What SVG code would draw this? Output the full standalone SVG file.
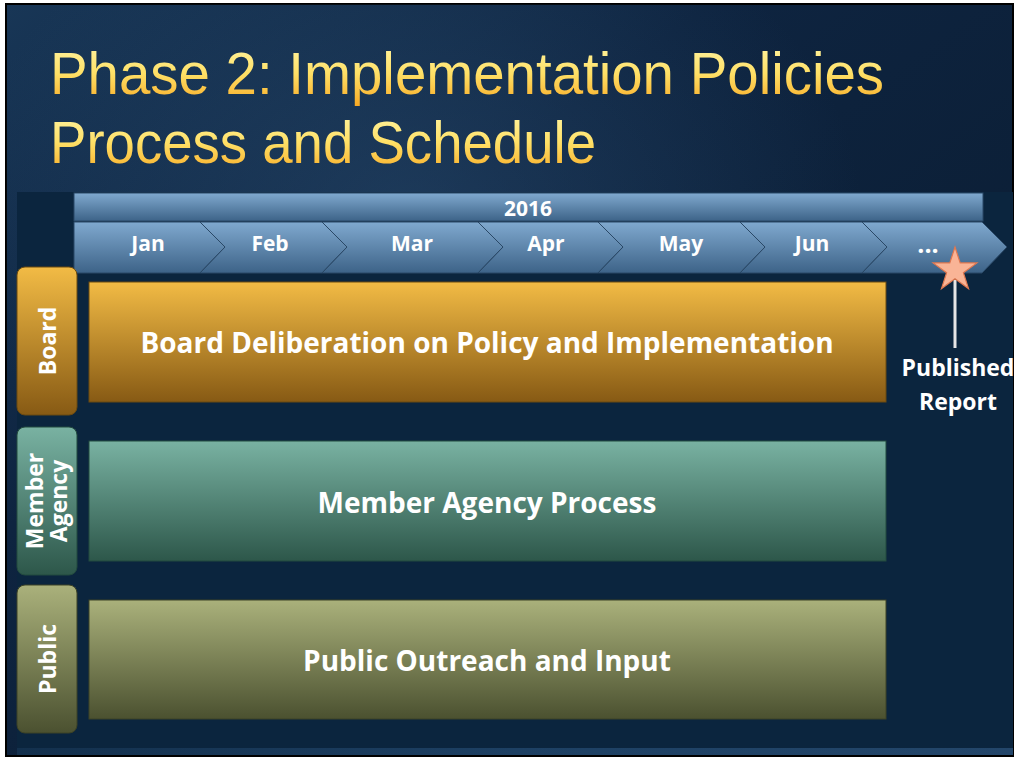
<svg xmlns="http://www.w3.org/2000/svg" width="1016" height="759" viewBox="0 0 1016 759">
<defs>
<linearGradient id="bg" x1="0" y1="0" x2="1" y2="1">
<stop offset="0" stop-color="#183656"/>
<stop offset="0.35" stop-color="#0e2440"/>
<stop offset="1" stop-color="#091a2d"/>
</linearGradient>
<radialGradient id="glow" cx="0.4" cy="0.28" r="0.45">
<stop offset="0" stop-color="#2e5378" stop-opacity="0.45"/>
<stop offset="1" stop-color="#2e5378" stop-opacity="0"/>
</radialGradient>
<linearGradient id="title" x1="0" y1="0" x2="0" y2="1">
<stop offset="0" stop-color="#fff6a8"/>
<stop offset="0.5" stop-color="#ffe066"/>
<stop offset="1" stop-color="#f7a722"/>
</linearGradient>
<linearGradient id="chev" x1="0" y1="0" x2="0" y2="1">
<stop offset="0" stop-color="#80a9cf"/>
<stop offset="1" stop-color="#3d6388"/>
</linearGradient>
<linearGradient id="gBoard" x1="0" y1="0" x2="0" y2="1">
<stop offset="0" stop-color="#f2bb45"/>
<stop offset="1" stop-color="#875a14"/>
</linearGradient>
<linearGradient id="gMember" x1="0" y1="0" x2="0" y2="1">
<stop offset="0" stop-color="#79b2a2"/>
<stop offset="1" stop-color="#2d574a"/>
</linearGradient>
<linearGradient id="gPublic" x1="0" y1="0" x2="0" y2="1">
<stop offset="0" stop-color="#aab17b"/>
<stop offset="1" stop-color="#4b5130"/>
</linearGradient>
<linearGradient id="bottom" x1="0" y1="0" x2="1" y2="0">
<stop offset="0" stop-color="#13304d"/>
<stop offset="0.5" stop-color="#1d4063"/>
<stop offset="1" stop-color="#23466a"/>
</linearGradient>
</defs>
<style>
.lbl{font-family:"Open Sans","DejaVu Sans",sans-serif;font-weight:bold;fill:#ffffff;text-anchor:middle}
.mon{font-size:21px}
.bar{font-size:28px}
.lane{font-size:23px}
.chev{fill:url(#chev);stroke:#2a4866;stroke-width:1}
.ttl{font-family:"Liberation Sans",Arial,sans-serif;font-size:60px;fill:url(#title)}
</style>
<rect x="0" y="0" width="1016" height="759" fill="#ffffff"/>
<rect x="6" y="4" width="1007" height="752" fill="url(#bg)" stroke="#000" stroke-width="2"/>
<rect x="6" y="4" width="1007" height="752" fill="url(#glow)"/>
<rect x="17" y="192" width="996" height="556" fill="#0b253e"/>
<rect x="17" y="748" width="996" height="7" fill="url(#bottom)"/>
<g id="title-text">
<text class="ttl" x="50" y="94" textLength="834" lengthAdjust="spacingAndGlyphs">Phase 2: Implementation Policies</text>
<text class="ttl" x="50" y="163" textLength="546" lengthAdjust="spacingAndGlyphs">Process and Schedule</text>
</g>
<g id="timeline">
<rect x="74" y="193" width="909" height="28" class="chev"/>
<text class="lbl mon" x="528" y="216">2016</text>
<polygon class="chev" points="74,222 200,222 225,247 200,273 74,273"/>
<polygon class="chev" points="200,222 322,222 347,247 322,273 200,273 225,247"/>
<polygon class="chev" points="322,222 478,222 503,247 478,273 322,273 347,247"/>
<polygon class="chev" points="478,222 598,222 623,247 598,273 478,273 503,247"/>
<polygon class="chev" points="598,222 740,222 765,247 740,273 598,273 623,247"/>
<polygon class="chev" points="740,222 862,222 887,247 862,273 740,273 765,247"/>
<polygon class="chev" points="862,222 982,222 1007,247 982,273 862,273 887,247"/>
<text class="lbl mon" x="148" y="251">Jan</text>
<text class="lbl mon" x="270" y="251">Feb</text>
<text class="lbl mon" x="412" y="251">Mar</text>
<text class="lbl mon" x="546" y="251">Apr</text>
<text class="lbl mon" x="681" y="251">May</text>
<text class="lbl mon" x="812" y="251">Jun</text>
<text class="lbl" x="928" y="253" style="font-size:25px">...</text>
</g>
<g id="lane-board">
<rect x="17" y="267" width="60" height="148" rx="8" fill="url(#gBoard)" stroke="#6b4a10" stroke-width="1"/>
<text class="lbl lane" transform="translate(56,341) rotate(-90)">Board</text>
</g>
<g id="lane-member">
<rect x="17" y="427" width="60" height="148" rx="8" fill="url(#gMember)" stroke="#234a3e" stroke-width="1"/>
<text class="lbl lane" transform="translate(43,501) rotate(-90)">Member</text>
<text class="lbl lane" transform="translate(67,501) rotate(-90)">Agency</text>
</g>
<g id="lane-public">
<rect x="17" y="585" width="60" height="148" rx="8" fill="url(#gPublic)" stroke="#3c4226" stroke-width="1"/>
<text class="lbl lane" transform="translate(56,659) rotate(-90)">Public</text>
</g>
<g id="bar-board">
<rect x="89" y="282" width="797" height="120" fill="url(#gBoard)" stroke="#6b4a10" stroke-width="1"/>
<text class="lbl bar" x="487" y="353">Board Deliberation on Policy and Implementation</text>
</g>
<g id="bar-member">
<rect x="89" y="441" width="797" height="120" fill="url(#gMember)" stroke="#234a3e" stroke-width="1"/>
<text class="lbl bar" x="487" y="513">Member Agency Process</text>
</g>
<g id="bar-public">
<rect x="89" y="600" width="797" height="119" fill="url(#gPublic)" stroke="#3c4226" stroke-width="1"/>
<text class="lbl bar" x="487" y="671">Public Outreach and Input</text>
</g>
<g id="connectors">
<line x1="955" y1="280" x2="955" y2="348" stroke="#e6e6e6" stroke-width="3"/>
</g>
<g id="milestone">
<polygon points="955,247 960.2,262.9 976.9,262.9 963.4,272.8 968.5,288.6 955,278.8 941.5,288.6 946.6,272.8 933.1,262.9 949.8,262.9" fill="#f9b496" stroke="#e07850" stroke-width="1.2"/>
<text class="lbl lane" x="958" y="376">Published</text>
<text class="lbl lane" x="958" y="410">Report</text>
</g>
</svg>
